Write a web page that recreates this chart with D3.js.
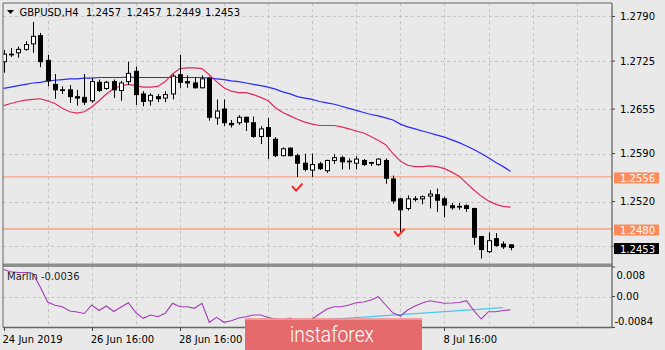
<!DOCTYPE html>
<html>
<head>
<meta charset="utf-8">
<script src="https://cdn.jsdelivr.net/npm/d3@7"></script>
<style>
  html, body { margin: 0; padding: 0; background: #e9e9e9; }
  svg { display: block; font-family: "DejaVu Sans", sans-serif; }
</style>
</head>
<body>
<div id="chart"></div>
<script>
// GBPUSD H4 candles, bar 0 = 24 Jun 16:00
const open = [1.2724,1.2735,1.2737,1.2742,1.2750,1.2762,1.2726,1.2691,1.2683,1.2683,
  1.2673,1.2672,1.2667,1.2694,1.2685,1.2695,1.2682,1.2695,1.2710,1.2677,
  1.2667,1.2673,1.2671,1.2677,1.2705,1.2695,1.2693,1.2686,1.2700,1.2642,
  1.2655,1.2634,1.2635,1.2643,1.2635,1.2615,1.2628,1.2611,1.2587,1.2598,
  1.2587,1.2576,1.2566,1.2575,1.2565,1.2580,1.2584,1.2579,1.2576,1.2580,
  1.2577,1.2574,1.2580,1.2553,1.2524,1.2510,1.2524,1.2524,1.2528,1.2530,
  1.2524,1.2514,1.2513,1.2514,1.2510,1.2469,1.2447,1.2466,1.2458,1.2457];
const high = [1.2741,1.2744,1.2746,1.2754,1.2782,1.2766,1.2734,1.2706,1.2688,1.2690,
  1.2683,1.2706,1.2700,1.2698,1.2696,1.2698,1.2696,1.2724,1.2717,1.2681,
  1.2678,1.2677,1.2681,1.2706,1.2734,1.2704,1.2701,1.2704,1.2702,1.2669,
  1.2669,1.2639,1.2646,1.2644,1.2644,1.2630,1.2642,1.2614,1.2599,1.2599,
  1.2590,1.2590,1.2590,1.2578,1.2581,1.2589,1.2587,1.2583,1.2586,1.2582,
  1.2578,1.2583,1.2583,1.2558,1.2525,1.2529,1.2528,1.2529,1.2537,1.2539,
  1.2527,1.2518,1.2518,1.2516,1.2511,1.2470,1.2475,1.2474,1.2462,1.2457];
const low = [1.2708,1.2731,1.2730,1.2740,1.2737,1.2716,1.2688,1.2670,1.2677,1.2664,
  1.2660,1.2661,1.2664,1.2680,1.2683,1.2671,1.2667,1.2690,1.2661,1.2659,
  1.2660,1.2665,1.2665,1.2669,1.2686,1.2686,1.2685,1.2685,1.2638,1.2632,
  1.2630,1.2628,1.2632,1.2623,1.2613,1.2604,1.2582,1.2585,1.2586,1.2586,
  1.2556,1.2564,1.2556,1.2566,1.2562,1.2575,1.2567,1.2567,1.2567,1.2572,
  1.2572,1.2572,1.2546,1.2517,1.2476,1.2507,1.2520,1.2516,1.2510,1.2505,
  1.2497,1.2508,1.2508,1.2505,1.2457,1.2437,1.2445,1.2454,1.2451,1.2449];
const close = [1.2735,1.2734,1.2742,1.2749,1.2761,1.2724,1.2696,1.2683,1.2682,1.2673,
  1.2671,1.2665,1.2695,1.2682,1.2694,1.2683,1.2693,1.2707,1.2676,1.2666,
  1.2675,1.2670,1.2676,1.2703,1.2694,1.2693,1.2686,1.2699,1.2643,1.2652,
  1.2635,1.2632,1.2643,1.2636,1.2615,1.2626,1.2615,1.2587,1.2597,1.2587,
  1.2576,1.2567,1.2574,1.2568,1.2580,1.2584,1.2578,1.2578,1.2582,1.2574,
  1.2576,1.2582,1.2554,1.2521,1.2508,1.2524,1.2523,1.2527,1.2531,1.2522,
  1.2515,1.2511,1.2512,1.2510,1.2468,1.2450,1.2463,1.2456,1.2454,1.2453];

// moving averages (red = fast, blue = slow)
const maFast = [1.2660,1.2663,1.2666,1.2668,1.2669,1.2670,1.2667,1.2663,1.2656,1.2651,
  1.2649,1.2651,1.2658,1.2667,1.2677,1.2685,1.2689,1.2691,1.2689,1.2687,
  1.2687,1.2688,1.2695,1.2706,1.2714,1.2715,1.2715,1.2714,1.2705,1.2695,
  1.2686,1.2681,1.2679,1.2679,1.2676,1.2672,1.2667,1.2657,1.2650,1.2645,
  1.2640,1.2636,1.2633,1.2631,1.2631,1.2631,1.2629,1.2626,1.2623,1.2620,
  1.2615,1.2609,1.2603,1.2590,1.2579,1.2573,1.2571,1.2571,1.2572,1.2571,
  1.2568,1.2563,1.2557,1.2547,1.2537,1.2528,1.2521,1.2516,1.2513,1.2512];
const maSlow = [1.2685,1.2687,1.2689,1.2691,1.2693,1.2694,1.2696,1.2697,1.2698,1.2699,
  1.2699,1.2700,1.2700,1.2701,1.2701,1.2701,1.2701,1.2702,1.2701,1.2701,
  1.2701,1.2701,1.2701,1.2701,1.2701,1.2701,1.2701,1.2701,1.2700,1.2699,
  1.2698,1.2696,1.2695,1.2693,1.2691,1.2689,1.2687,1.2684,1.2680,1.2677,
  1.2673,1.2671,1.2669,1.2666,1.2664,1.2662,1.2659,1.2656,1.2653,1.2650,
  1.2647,1.2645,1.2642,1.2639,1.2633,1.2629,1.2626,1.2623,1.2620,1.2617,
  1.2614,1.2610,1.2606,1.2601,1.2596,1.2590,1.2584,1.2577,1.2571,1.2564];

// Marlin oscillator (sub window)
const marlin = [0.00732,0.00672,0.00651,0.00651,0.00623,0.00258,-0.00149,-0.00239,-0.00279,-0.00393,
  -0.00420,-0.00461,-0.00230,-0.00380,-0.00258,-0.00407,-0.00285,-0.00168,-0.00434,-0.00591,
  -0.00501,-0.00548,-0.00455,-0.00184,-0.00276,-0.00279,-0.00320,-0.00184,-0.00699,-0.00564,
  -0.00699,-0.00656,-0.00583,-0.00548,-0.00501,-0.00501,-0.00569,-0.00610,-0.00637,-0.00583,
  -0.00691,-0.00664,-0.00610,-0.00474,-0.00339,-0.00276,-0.00276,-0.00230,-0.00168,-0.00149,
  -0.00095,-0.00005,-0.00230,-0.00447,-0.00529,-0.00366,-0.00258,-0.00176,-0.00114,-0.00149,
  -0.00184,-0.00176,-0.00163,-0.00114,-0.00380,-0.00610,-0.00412,-0.00412,-0.00380,-0.00360];
const marlinTrend = [[40, -0.00683], [68, -0.00301]];

const gridPrices = [1.2790, 1.2725, 1.2655, 1.2590, 1.2520, 1.2455];
const priceLabels = [1.2790, 1.2725, 1.2655, 1.2590, 1.2520];
const levels = [1.2556, 1.2480];
const lastPrice = 1.2453;
const marlinTicks = [0.008, 0.00, -0.0084];
const marlinTickLabels = ["0.008", "0.00", "-0.0084"];
const timeBars = [0, 12, 24, 60];
const timeLabels = ["24 Jun 2019", "26 Jun 16:00", "28 Jun 16:00", "8 Jul 16:00"];
const checkMarks = [[39.8, 1.2536], [53.7, 1.2470]];

const W = 665, H = 350;
const L = 3, R = 612, mainTop = 3, mainBot = 264, subTop = 267, subBot = 327.5;

const svg = d3.select("#chart").append("svg")
  .attr("width", W).attr("height", H);

svg.append("rect").attr("width", W).attr("height", H).attr("fill", "#e9e9e9");

const x = d3.scaleLinear().domain([0, 82.8]).range([3.5, R]);
const y = d3.scaleLinear().domain([1.2429, 1.2814]).range([264, 0]);
const ym = d3.scaleLinear().domain([-0.0084, 0.008]).range([subBot, subTop]);
const step = x(1) - x(0);

const defs = svg.append("defs");
defs.append("clipPath").attr("id", "clipMain").append("rect")
  .attr("x", L).attr("y", mainTop).attr("width", R - L).attr("height", mainBot - mainTop);
defs.append("clipPath").attr("id", "clipSub").append("rect")
  .attr("x", L).attr("y", subTop).attr("width", R - L).attr("height", subBot - subTop);

const gridColor = "#c4c4c4";
const vGrid = d3.range(6, 83, 6);

// ---- main window ----
const main = svg.append("g").attr("clip-path", "url(#clipMain)");

main.selectAll(".vg").data(vGrid).join("line")
  .attr("x1", d => Math.round(x(d)) + 0.5).attr("x2", d => Math.round(x(d)) + 0.5)
  .attr("y1", mainTop).attr("y2", mainBot)
  .attr("stroke", gridColor).attr("stroke-dasharray", "3,3");
main.selectAll(".hg").data(gridPrices).join("line")
  .attr("x1", L).attr("x2", R)
  .attr("y1", d => Math.round(y(d)) + 0.5).attr("y2", d => Math.round(y(d)) + 0.5)
  .attr("stroke", gridColor).attr("stroke-dasharray", "3,3");

main.selectAll(".lvl").data(levels).join("line")
  .attr("x1", L).attr("x2", R)
  .attr("y1", d => y(d)).attr("y2", d => y(d))
  .attr("stroke", "#f5a27f").attr("stroke-width", 1.4);

const line = arr => d3.line().x((d, i) => x(i)).y(d => y(d))(arr);
main.append("path").attr("d", line(maSlow))
  .attr("fill", "none").attr("stroke", "#2a2aff").attr("stroke-width", 1.2);
main.append("path").attr("d", line(maFast))
  .attr("fill", "none").attr("stroke", "#e22a58").attr("stroke-width", 1.2);

// candles
const idx = d3.range(open.length);
const bodyW = Math.round(step * 0.55);
const cg = main.append("g");
cg.selectAll(".wick").data(idx).join("line")
  .attr("x1", i => Math.round(x(i)) + 0.5).attr("x2", i => Math.round(x(i)) + 0.5)
  .attr("y1", i => y(high[i])).attr("y2", i => y(low[i]))
  .attr("stroke", "#000").attr("stroke-width", 1);
cg.selectAll(".body").data(idx).join("rect")
  .attr("x", i => Math.round(x(i)) - bodyW / 2 + 0.5)
  .attr("width", bodyW)
  .attr("y", i => y(Math.max(open[i], close[i])))
  .attr("height", i => Math.max(0.5, Math.abs(y(open[i]) - y(close[i]))))
  .attr("fill", i => close[i] >= open[i] ? "#fff" : "#000")
  .attr("stroke", "#000").attr("stroke-width", 1);

// red check marks
main.selectAll(".chk").data(checkMarks).join("path")
  .attr("d", d => {
    const cx = x(d[0]), cy = y(d[1]);
    return `M${cx - 3.5},${cy - 4} L${cx},${cy} L${cx + 6},${cy - 6.5}`;
  })
  .attr("fill", "none").attr("stroke", "#f22").attr("stroke-width", 2)
  .attr("stroke-linecap", "round").attr("stroke-linejoin", "round");

// title
svg.append("path").attr("d", "M7,10 L14,10 L10.5,14 Z").attr("fill", "#000");
const title = [["GBPUSD,H4", 19.5], ["1.2457", 86], ["1.2457", 126.5], ["1.2449", 166], ["1.2453", 205]];
svg.selectAll(".ttl").data(title).join("text")
  .attr("x", d => d[1]).attr("y", 16).attr("font-size", 10).attr("fill", "#000")
  .text(d => d[0]);

// ---- sub window ----
const sub = svg.append("g").attr("clip-path", "url(#clipSub)");
sub.selectAll(".vg").data(vGrid).join("line")
  .attr("x1", d => Math.round(x(d)) + 0.5).attr("x2", d => Math.round(x(d)) + 0.5)
  .attr("y1", subTop).attr("y2", subBot)
  .attr("stroke", gridColor).attr("stroke-dasharray", "3,3");
sub.append("line").attr("x1", L).attr("x2", R)
  .attr("y1", Math.round(ym(0)) + 0.5).attr("y2", Math.round(ym(0)) + 0.5)
  .attr("stroke", gridColor).attr("stroke-dasharray", "3,3");
sub.append("path")
  .attr("d", d3.line().x(d => x(d[0])).y(d => ym(d[1]))(marlinTrend))
  .attr("stroke", "#4ec6f2").attr("stroke-width", 1.3).attr("fill", "none");
sub.append("path")
  .attr("d", d3.line().x((d, i) => x(i)).y(d => ym(d))(marlin))
  .attr("fill", "none").attr("stroke", "#a23cb4").attr("stroke-width", 1.1);
svg.append("text").attr("x", 7).attr("y", 279.5).attr("font-size", 10).attr("fill", "#222")
  .text("Marlin -0.0036");

// ---- frames ----
svg.append("rect").attr("x", L).attr("y", 263.5).attr("width", R - L).attr("height", 3.5).attr("fill", "#8e8e8e");
svg.append("line").attr("x1", L).attr("x2", R).attr("y1", mainTop).attr("y2", mainTop)
  .attr("stroke", "#666").attr("stroke-width", 1);
svg.append("line").attr("x1", L).attr("x2", L).attr("y1", mainTop).attr("y2", subBot)
  .attr("stroke", "#666").attr("stroke-width", 1);
svg.append("line").attr("x1", R).attr("x2", R).attr("y1", mainTop).attr("y2", subBot)
  .attr("stroke", "#666").attr("stroke-width", 1.3);
svg.append("line").attr("x1", L).attr("x2", R).attr("y1", subBot).attr("y2", subBot)
  .attr("stroke", "#666").attr("stroke-width", 1.3);

// price axis
svg.selectAll(".ptk").data(gridPrices).join("line")
  .attr("x1", R).attr("x2", R + 3).attr("y1", d => y(d)).attr("y2", d => y(d))
  .attr("stroke", "#444");
svg.selectAll(".plb").data(priceLabels).join("text")
  .attr("x", 620).attr("y", d => y(d) + 3.6).attr("font-size", 10).attr("fill", "#000")
  .text(d => d.toFixed(4));

const tags = levels.map(v => ({ v, bg: "#fb8b5a" })).concat([{ v: lastPrice, bg: "#000" }]);
svg.selectAll(".tag").data(tags).join("rect")
  .attr("x", 614).attr("y", d => y(d.v) - 4.5).attr("width", 45).attr("height", 11)
  .attr("fill", d => d.bg);
svg.selectAll(".tagt").data(tags).join("text")
  .attr("x", 620).attr("y", d => y(d.v) + 5).attr("font-size", 10).attr("fill", "#fff")
  .text(d => d.v.toFixed(4));

// marlin axis
svg.selectAll(".mtk").data(marlinTicks).join("line")
  .attr("x1", R).attr("x2", R + 3).attr("y1", d => ym(d)).attr("y2", d => ym(d))
  .attr("stroke", "#444");
svg.selectAll(".mlb").data(marlinTicks).join("text")
  .attr("x", (d, i) => i === 2 ? 614.5 : 616.5)
  .attr("y", (d, i) => i === 0 ? ym(d) + 11.5 : i === 2 ? ym(d) - 3 : ym(d) + 3.6)
  .attr("font-size", 10).attr("fill", "#000")
  .text((d, i) => marlinTickLabels[i]);

// time axis
svg.selectAll(".ttk").data(timeBars).join("line")
  .attr("x1", d => Math.round(x(d)) + 0.5).attr("x2", d => Math.round(x(d)) + 0.5)
  .attr("y1", subBot).attr("y2", subBot + 3.5).attr("stroke", "#444");
svg.selectAll(".tlb").data(timeBars).join("text")
  .attr("x", d => x(d) - 1).attr("y", 342.5).attr("font-size", 10).attr("fill", "#000")
  .text((d, i) => timeLabels[i]);

// instaforex badge
const logo = svg.append("g");
logo.append("rect").attr("x", 245).attr("y", 318.5).attr("width", 177).attr("height", 32)
  .attr("fill", "#e46a6c");
logo.append("rect").attr("x", 245).attr("y", 318.5).attr("width", 177).attr("height", 1.5)
  .attr("fill", "#f19a9b");
logo.append("text").attr("x", 290).attr("y", 342).attr("font-size", 22)
  .attr("font-family", "Roboto, sans-serif").attr("font-weight", 300)
  .attr("textLength", 84).attr("lengthAdjust", "spacingAndGlyphs")
  .attr("fill", "#fff").text("instaforex");
</script>
</body>
</html>
